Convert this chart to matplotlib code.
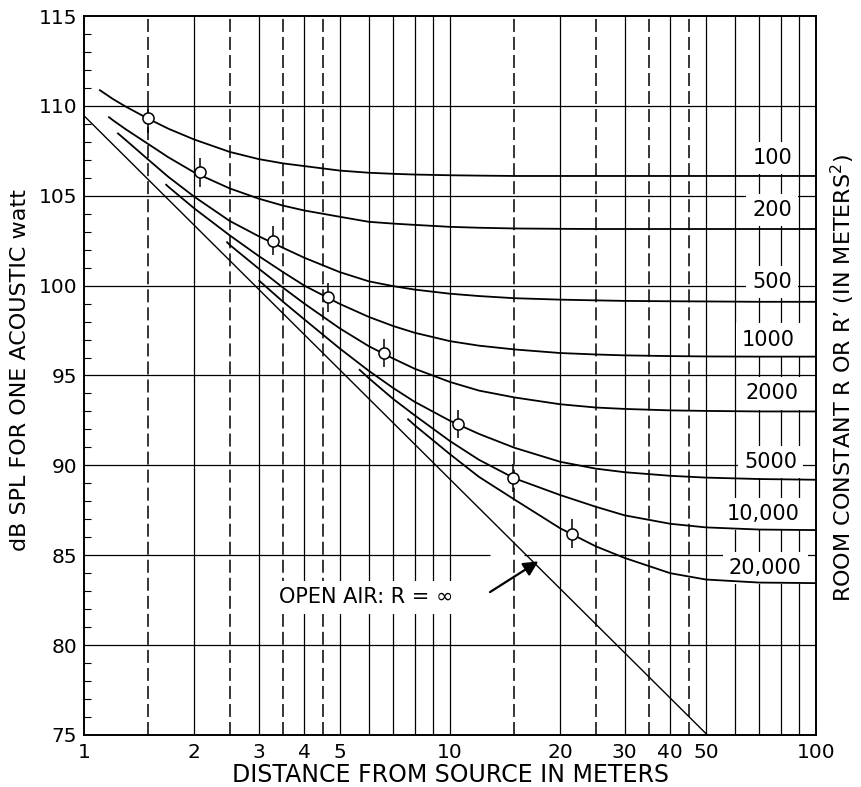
import matplotlib.pyplot as plt
import numpy as np
from matplotlib.ticker import NullLocator

plt.rcParams["font.family"] = ["DejaVu Sans"]
plt.rcParams["mathtext.default"] = "regular"

nan = np.nan

# distance grid (m) at which the curves were read
dist = [1.1, 1.2, 1.3, 1.5, 1.7, 2, 2.5, 3, 3.5, 4, 5, 6, 7, 8, 10, 12, 15,
        20, 25, 30, 40, 50, 70, 100]

# dB SPL
spl_100 = [nan, 110.38, 109.96, 109.28, 108.73, 108.13, 107.44, 107.04, 106.8,
           106.65, 106.4, 106.28, 106.22, 106.18, 106.14, 106.12, 106.1, 106.1,
           106.1, 106.1, 106.1, 106.1, 106.1, 106.1]
spl_200 = [nan, 109.2, 108.7, 107.87, 107.14, 106.3, 105.41, 104.84, 104.45,
           104.18, 103.83, 103.55, 103.45, 103.38, 103.27, 103.22, 103.18,
           103.16, 103.15, 103.15, 103.15, 103.15, 103.15, 103.15]
spl_500 = [nan, nan, 108.1, 107.0, 106.05, 104.95, 103.6, 102.75, 102.1,
           101.55, 100.75, 100.24, 99.97, 99.78, 99.55, 99.42, 99.3, 99.22,
           99.18, 99.15, 99.13, 99.12, 99.1, 99.1]
spl_1000 = [nan, nan, nan, nan, 105.5, 104.3, 102.8, 101.65, 100.75, 100.0,
            98.98, 98.26, 97.75, 97.38, 96.91, 96.66, 96.45, 96.25, 96.17,
            96.12, 96.08, 96.06, 96.05, 96.05]
spl_2000 = [nan, nan, nan, nan, nan, nan, 102.27, 100.95, 99.88, 99.0, 97.62,
            96.63, 95.94, 95.38, 94.64, 94.16, 93.78, 93.4, 93.22, 93.14,
            93.06, 93.03, 93.0, 93.0]
spl_5000 = [nan, nan, nan, nan, nan, nan, nan, nan, 99.1, 98.12, 96.5, 95.26,
            94.3, 93.54, 92.48, 91.75, 90.98, 90.2, 89.82, 89.62, 89.42,
            89.32, 89.24, 89.2]
spl_10000 = [nan, nan, nan, nan, nan, nan, nan, nan, nan, nan, nan, 94.85,
             93.69, 92.79, 91.35, 90.31, 89.28, 88.35, 87.7, 87.22, 86.75,
             86.55, 86.43, 86.4]
spl_20000 = [nan, nan, nan, nan, nan, nan, nan, nan, nan, nan, nan, nan, nan,
             92.24, 90.62, 89.36, 88.1, 86.5, 85.5, 84.85, 84.0, 83.65, 83.48,
             83.45]

# where each curve begins on the chart
start_dist = [1.1, 1.165, 1.233, 1.67, 2.45, 3.0, 5.64, 7.65]
start_spl = [110.9, 109.4, 108.5, 105.65, 102.45, 100.3, 95.35, 92.6]

room_labels = ["100", "200", "500", "1000", "2000", "5000", "10,000", "20,000"]
label_spl = [107.1, 104.2, 100.2, 97.0, 94.0, 90.2, 87.3, 84.3]
label_dist = [86, 86, 86, 87.6, 89.3, 88.7, 90.4, 91.4]

# open air (R = infinity) straight line
open_dist = [1, 50.5]
open_spl = [109.45, 75.0]

# critical-distance points
circle_dist = [1.5, 2.08, 3.28, 4.63, 6.6, 10.5, 14.9, 21.5]
circle_spl = [109.3, 106.3, 102.5, 99.35, 96.25, 92.3, 89.3, 86.2]

xticks = [1, 2, 3, 4, 5, 10, 20, 30, 40, 50, 100]
solid_x = [2, 3, 4, 5, 6, 7, 8, 9, 10, 20, 30, 40, 50, 60, 70, 80, 90]
dashed_x = [1.5, 2.5, 3.5, 4.5, 15, 25, 35, 45]
grid_y = [80, 90, 95, 100, 105, 110]

fig = plt.figure(figsize=(8.61, 7.87), dpi=100)
ax = fig.add_axes([84 / 861, 52 / 787, 732 / 861, 719 / 787])
ax.set_xscale("log")
ax.set_xlim(1, 100)
ax.set_ylim(75, 115)

# grid
for x in solid_x:
    ax.axvline(x, color="black", lw=0.9, zorder=1)
for x in dashed_x:
    ax.axvline(x, color="black", lw=1.1, dashes=(8.5, 3.3), zorder=1)
for y in grid_y:
    ax.axhline(y, color="black", lw=0.9, zorder=1)
ax.hlines(85, 1, 12.9, color="black", lw=0.9, zorder=1)
ax.hlines(85, 15.9, 100, color="black", lw=0.9, zorder=1)

# room constant curves
curves = [spl_100, spl_200, spl_500, spl_1000, spl_2000, spl_5000,
          spl_10000, spl_20000]
for sx, sy, levels in zip(start_dist, start_spl, curves):
    xs = [sx] + [d for d, v in zip(dist, levels) if d > sx and not np.isnan(v)]
    ys = [sy] + [v for d, v in zip(dist, levels) if d > sx and not np.isnan(v)]
    ax.plot(xs, ys, color="black", lw=1.3, zorder=3, solid_capstyle="butt")

ax.plot(open_dist, open_spl, color="black", lw=1.0, zorder=3)

ax.errorbar(circle_dist, circle_spl, yerr=0.8, fmt="o", ms=8, mfc="white",
            mec="black", mew=1.1, ecolor="black", elinewidth=1.1, capsize=0,
            zorder=4)

for lab, lx, ly in zip(room_labels, label_dist, label_spl):
    ax.text(lx, ly, lab, ha="right", va="center", fontsize=15, zorder=2,
            bbox=dict(boxstyle="square,pad=0.3", fc="white", ec="none"))

ax.text(3.42, 82.65, "OPEN AIR: R = \u221e", ha="left", va="center",
        fontsize=15, zorder=2,
        bbox=dict(boxstyle="square,pad=0.3", fc="white", ec="none"))
ax.annotate("", xy=(17.43, 84.66), xytext=(12.86, 82.95), zorder=5,
            arrowprops=dict(arrowstyle="-|>", color="black", lw=1.6,
                            mutation_scale=22, shrinkA=0, shrinkB=0))

# axes and ticks
ax.set_xticks(xticks)
ax.set_xticklabels([str(t) for t in xticks])
ax.xaxis.set_minor_locator(NullLocator())
ax.set_yticks(range(75, 116, 5))
ax.set_yticks(range(75, 116), minor=True)
ax.tick_params(axis="x", which="both", length=0, pad=6, labelsize=14.5)
ax.tick_params(axis="y", which="major", length=0, pad=5, labelsize=14.5)
ax.tick_params(axis="y", which="minor", direction="in", length=5, width=0.8)
for side in ["left", "bottom", "top", "right"]:
    ax.spines[side].set_linewidth(1.4)
    ax.spines[side].set_zorder(6)

fig.text(450 / 861, 1 - 775 / 787, "DISTANCE FROM SOURCE IN METERS",
         ha="center", va="center", fontsize=17)
fig.text(20 / 861, 1 - 370 / 787, "dB SPL FOR ONE ACOUSTIC watt",
         ha="center", va="center", rotation=90, fontsize=16)
fig.text(843 / 861, 1 - 378 / 787,
         "ROOM CONSTANT R OR R\u2019 (IN METERS$^2$)",
         ha="center", va="center", rotation=90, fontsize=16)

fig.savefig("out.png", dpi=100)
